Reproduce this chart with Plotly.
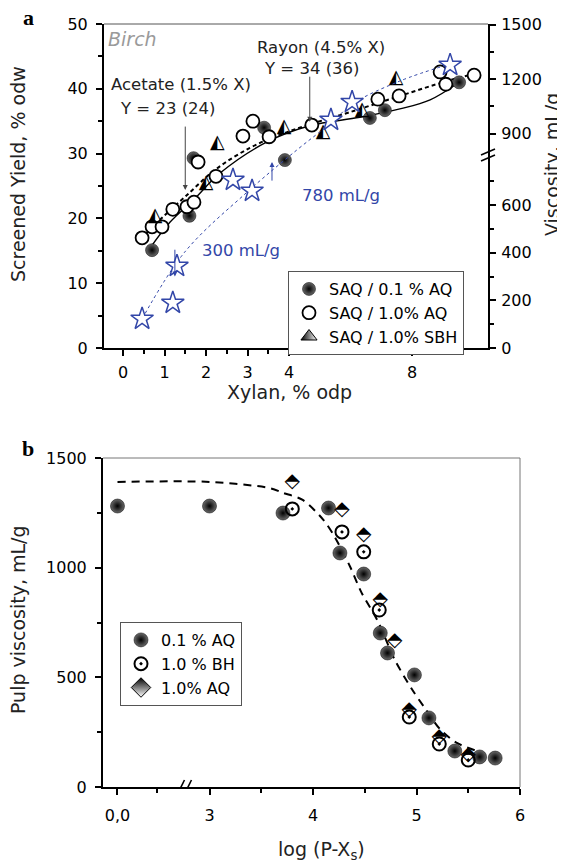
import plotly.graph_objects as go

# the page body keeps an 8px margin, so the figure is 8px smaller than the window
PAD = 8
W, H = 565 - PAD, 863 - PAD
FONT = "DejaVu Sans"
BLUE = "#3246a8"

# ---- panel a: screened yield (left) and viscosity (right) vs xylan, % odp ----
AQ01_XYLAN = [0.7, 1.6, 1.7, 3.4, 3.9, 6.31, 6.91, 9.88]
AQ01_YIELD = [15.1, 20.4, 29.3, 34.0, 29.0, 35.5, 36.7, 41.0]
AQ10_XYLAN = [0.46, 0.7, 0.94, 1.2, 1.54, 1.71, 1.81, 2.24, 2.89, 3.13, 3.52, 4.55,
              6.63, 7.48, 9.12, 9.35, 10.48]
AQ10_YIELD = [17.0, 18.7, 18.7, 21.4, 21.8, 22.5, 28.7, 26.5, 32.7, 35.0, 32.6, 34.4,
              38.4, 38.9, 42.6, 40.7, 42.1]
SBH_XYLAN = [0.77, 2.0, 2.27, 3.88, 4.82, 6.0, 7.36]
SBH_YIELD = [20.4, 25.5, 31.6, 34.0, 33.3, 36.7, 41.7]
VISC_XYLAN = [0.46, 1.2, 1.3, 2.65, 3.11, 5.01, 5.6, 9.52]
VISC_VALUES = [122, 189, 344, 705, 659, 975, 1073, 1277]

# fitted curves
FIT01_XYLAN = [0.65, 1.13, 1.69, 2.34, 3.47, 4.5, 5.91, 7.51, 8.72, 9.84]
FIT01_YIELD = [15.4, 19.4, 22.8, 27.0, 31.8, 34.3, 35.6, 36.9, 38.3, 40.9]
FIT10_XYLAN = [0.41, 0.89, 1.49, 2.22, 3.06, 3.78, 4.55, 5.52, 7.51, 9.4, 10.48]
FIT10_YIELD = [16.7, 19.8, 23.3, 27.5, 30.9, 32.9, 34.6, 36.4, 38.9, 41.2, 42.3]
VFIT_XYLAN = [0.46, 1.49, 2.99, 4.19, 5.04, 5.6, 7.51, 9.52]
VFIT_VALUES = [122, 403, 654, 831, 963, 1062, 1189, 1283]

A_XTICKS = [0, 1, 2, 3, 4, 8]
A_XMINOR = [0.5, 1.5, 2.5, 3.5, 4.5, 6, 10]
A_VTICKS = [0, 200, 400, 600, 900, 1200, 1500]
A_VMINOR = [100, 300, 500, 700, 1050, 1350]

# ---- panel b: pulp viscosity vs log(P-Xs) ----
B_AQ01_LOG = [0.0, 3.0, 3.71, 4.15, 4.26, 4.49, 4.65, 4.72, 4.98, 5.12, 5.37, 5.61, 5.76]
B_AQ01_VISC = [1281, 1281, 1249, 1272, 1067, 971, 702, 611, 511, 315, 164, 137, 132]
B_BH_LOG = [3.8, 4.28, 4.49, 4.64, 4.93, 5.22, 5.5]
B_BH_VISC = [1268, 1163, 1072, 807, 319, 196, 123]
B_AQ10_LOG = [3.8, 4.28, 4.49, 4.65, 4.79, 4.93, 5.22, 5.5]
B_AQ10_VISC = [1391, 1263, 1149, 853, 666, 351, 228, 146]
B_FIT_LOG = [0.0, 3.0, 3.58, 3.71, 3.9, 4.1, 4.21, 4.36, 4.47, 4.62, 4.79, 4.95, 5.08,
             5.23, 5.39, 5.64]
B_FIT_VISC = [1391, 1391, 1363, 1341, 1309, 1218, 1140, 1003, 885, 762, 580, 450, 360,
              262, 201, 155]

B_XTICKS = [0, 3, 4, 5, 6]
B_XTEXT = ["0,0", "3", "4", "5", "6"]
B_XMINOR = [1.3, 3.5, 4.5, 5.5]


# broken axes: piecewise linear maps from values to drawing units
def xa(x):
    return x if x <= 5.4 else 5.4 + (x - 5.4) * 0.6024


def va(v):
    return v * 0.03678 if v <= 900 else 33.1 + (v - 900) * 0.02803


def xb(x):
    return 2.111 + x * 0.2963 if x < 3 else x


# window pixels -> paper fractions
def px(x):
    return (x - PAD) / W


def py(y):
    return 1 - (y - PAD) / H


sphere = dict(symbol="circle", color="#6a6a6a",
              gradient=dict(type="radial", color="black"),
              line=dict(color="black", width=0.5))

fig = go.Figure()

# panel a curves
fig.add_trace(go.Scatter(
    x=[xa(v) for v in VFIT_XYLAN], y=[va(v) for v in VFIT_VALUES], yaxis="y2",
    mode="lines", line=dict(color=BLUE, width=1, dash="dot", shape="spline"),
    showlegend=False, hoverinfo="skip"))
fig.add_trace(go.Scatter(
    x=[xa(v) for v in FIT01_XYLAN], y=FIT01_YIELD, mode="lines",
    line=dict(color="black", width=1.4, shape="spline"),
    showlegend=False, hoverinfo="skip"))
fig.add_trace(go.Scatter(
    x=[xa(v) for v in FIT10_XYLAN], y=FIT10_YIELD, mode="lines",
    line=dict(color="black", width=2, dash="4px,3px", shape="spline"),
    showlegend=False, hoverinfo="skip"))

# panel a points
fig.add_trace(go.Scatter(
    x=[xa(v) for v in AQ01_XYLAN], y=AQ01_YIELD, mode="markers",
    marker=dict(size=13, **sphere), name="SAQ / 0.1 % AQ", legend="legend"))
fig.add_trace(go.Scatter(
    x=[xa(v) for v in AQ10_XYLAN], y=AQ10_YIELD, mode="markers",
    marker=dict(symbol="circle", size=13, color="white",
                line=dict(color="black", width=1.8)),
    name="SAQ / 1.0% AQ", legend="legend"))
fig.add_trace(go.Scatter(
    x=[xa(v) for v in SBH_XYLAN], y=SBH_YIELD, mode="text",
    text=["\u25ed"] * len(SBH_XYLAN),
    textfont=dict(family=FONT, size=19, color="black"),
    showlegend=False, hoverinfo="skip"))
fig.add_trace(go.Scatter(
    x=[None], y=[None], mode="markers",
    marker=dict(symbol="triangle-up", size=14, color="black",
                gradient=dict(type="horizontal", color="white"),
                line=dict(color="black", width=1)),
    name="SAQ / 1.0% SBH", legend="legend"))
fig.add_trace(go.Scatter(
    x=[xa(v) for v in VISC_XYLAN], y=[va(v) for v in VISC_VALUES], yaxis="y2",
    mode="markers",
    marker=dict(symbol="star", size=17, color="white", line=dict(color=BLUE, width=1.5)),
    showlegend=False))

# panel b
fig.add_trace(go.Scatter(
    x=[xb(v) for v in B_FIT_LOG], y=B_FIT_VISC, xaxis="x2", yaxis="y3", mode="lines",
    line=dict(color="black", width=2, dash="8px,6px", shape="spline", smoothing=0.8),
    showlegend=False, hoverinfo="skip"))
fig.add_trace(go.Scatter(
    x=[xb(v) for v in B_AQ01_LOG], y=B_AQ01_VISC, xaxis="x2", yaxis="y3",
    mode="markers", marker=dict(size=14, **sphere),
    name="0.1 % AQ", legend="legend2"))
fig.add_trace(go.Scatter(
    x=[xb(v) for v in B_BH_LOG], y=B_BH_VISC, xaxis="x2", yaxis="y3",
    mode="markers",
    marker=dict(symbol="circle-open-dot", size=13, color="black", line=dict(width=2)),
    name="1.0 % BH", legend="legend2"))
fig.add_trace(go.Scatter(
    x=[xb(v) for v in B_AQ10_LOG], y=B_AQ10_VISC, xaxis="x2", yaxis="y3",
    mode="text", text=["\u2b18"] * len(B_AQ10_LOG),
    textfont=dict(family=FONT, size=20, color="black"),
    showlegend=False, hoverinfo="skip"))
fig.add_trace(go.Scatter(
    x=[None], y=[None], xaxis="x2", yaxis="y3", mode="markers",
    marker=dict(symbol="diamond", size=15, color="black",
                gradient=dict(type="vertical", color="white"),
                line=dict(color="black", width=1)),
    name="1.0% AQ", legend="legend2"))

tickfont = dict(family=FONT, size=16, color="black")
axis_common = dict(showgrid=False, zeroline=False, showline=True, linecolor="black",
                   linewidth=2, ticks="outside", ticklen=6, tickwidth=1.5,
                   tickcolor="black", tickfont=tickfont, automargin=False)
minor_common = dict(ticks="outside", ticklen=4, tickwidth=1.5, tickcolor="black")

fig.update_layout(
    width=W, height=H, margin=dict(l=0, r=0, t=0, b=0),
    paper_bgcolor="white", plot_bgcolor="white",
    font=dict(family=FONT, color="black"),
    xaxis=dict(domain=[px(104), px(488)], anchor="y", range=[-0.458, 8.795],
               tickmode="array", tickvals=[xa(t) for t in A_XTICKS],
               ticktext=[str(t) for t in A_XTICKS], ticklabelstandoff=3,
               minor=dict(tickvals=[xa(t) for t in A_XMINOR], **minor_common),
               **axis_common),
    yaxis=dict(domain=[py(348), py(24)], anchor="x", range=[0, 50], dtick=10,
               ticklabelstandoff=5, minor=dict(dtick=5, **minor_common), **axis_common),
    yaxis2=dict(overlaying="y", side="right", anchor="x", range=[0, 50],
                tickmode="array", tickvals=[va(v) for v in A_VTICKS],
                ticktext=[str(v) for v in A_VTICKS], ticklabelstandoff=2,
                minor=dict(tickvals=[va(v) for v in A_VMINOR], **minor_common),
                **axis_common),
    xaxis2=dict(domain=[px(103), px(520)], anchor="y3", range=[1.971, 6.0],
                tickmode="array", tickvals=[xb(t) for t in B_XTICKS], ticktext=B_XTEXT,
                ticklabelstandoff=7,
                minor=dict(tickvals=[xb(t) for t in B_XMINOR], **minor_common),
                **axis_common),
    yaxis3=dict(domain=[py(787), py(458)], anchor="x2", range=[0, 1500], dtick=500,
                ticklabelstandoff=5, minor=dict(dtick=250, **minor_common),
                **axis_common),
    legend=dict(x=px(288), y=py(271), xanchor="left", yanchor="top",
                bgcolor="white", bordercolor="#555", borderwidth=1,
                font=dict(family=FONT, size=16), tracegroupgap=0),
    legend2=dict(x=px(120), y=py(622), xanchor="left", yanchor="top",
                 bgcolor="white", bordercolor="#555", borderwidth=1,
                 font=dict(family=FONT, size=16), tracegroupgap=0),
)

shapes = [
    dict(type="line", xref="x domain", yref="y domain", x0=0, x1=1, y0=1, y1=1,
         line=dict(color="#555", width=1)),
    dict(type="line", xref="x2 domain", yref="y3 domain", x0=0, x1=1, y0=1, y1=1,
         line=dict(color="#777", width=1)),
    dict(type="line", xref="x2 domain", yref="y3 domain", x0=1, x1=1, y0=0, y1=1,
         line=dict(color="#777", width=1)),
]


def axis_break(xref, yref, xanc, yanc, segs):
    for x0, y0, x1, y1 in segs:
        shapes.append(dict(type="line", xref=xref, yref=yref, xsizemode="pixel",
                           ysizemode="pixel", xanchor=xanc, yanchor=yanc,
                           x0=x0, y0=y0, x1=x1, y1=y1,
                           line=dict(color="black", width=1.6)))


slash = [(-8, -7, -1, 7), (-1, -7, 6, 7)]
axis_break("x", "y", 5.04, 0, slash)
axis_break("x2", "y3", 2.768, 0, slash)
axis_break("x domain", "y2", 1, va(810), [(-7, -6, 7, 0), (-7, 0, 7, 6)])
fig.update_layout(shapes=shapes)

ann = []
txt = dict(family=FONT, size=16.5, color="#222")
ann.append(dict(x=-0.42, y=47.7, xref="x", yref="y", text="<i>Birch</i>",
                showarrow=False, xanchor="left",
                font=dict(family=FONT, size=19, color="#9a9a9a")))
ann.append(dict(x=1.386, y=40.6, xref="x", yref="y", text="Acetate (1.5% X)",
                showarrow=False, font=txt))
ann.append(dict(x=1.072, y=37.0, xref="x", yref="y", text="Y = 23 (24)",
                showarrow=False, font=txt))
ann.append(dict(x=6.36, y=46.45, xref="x", yref="y", text="Rayon (4.5% X)",
                showarrow=False, xanchor="right", font=txt))
ann.append(dict(x=4.55, y=43.2, xref="x", yref="y", text="Y = 34 (36)",
                showarrow=False, font=txt))
ann.append(dict(x=4.265, y=23.6, xref="x", yref="y", text="780 mL/g",
                showarrow=False, xanchor="left", font=dict(txt, color=BLUE)))
ann.append(dict(x=1.855, y=15.1, xref="x", yref="y", text="300 mL/g",
                showarrow=False, xanchor="left", font=dict(txt, color=BLUE)))

# arrows
arrow = dict(text="", showarrow=True, arrowhead=2, arrowsize=1, arrowwidth=1,
             axref="x", xref="x")
ann.append(dict(arrow, x=1.5, y=24.4, ax=1.5, ay=34.4, yref="y", ayref="y",
                arrowcolor="#444"))
ann.append(dict(arrow, x=4.5, y=34.9, ax=4.5, ay=42.1, yref="y", ayref="y",
                arrowcolor="#444"))
ann.append(dict(arrow, x=3.59, y=va(780), ax=3.59, ay=25.6, yref="y2", ayref="y2",
                arrowcolor=BLUE))
ann.append(dict(arrow, x=1.25, y=va(300), ax=1.25, ay=15.4, yref="y2", ayref="y2",
                arrowcolor=BLUE))

# axis titles and panel letters (paper positions, anchored on their centre)
title = dict(family=FONT, size=19, color="#222")
centre = dict(xref="paper", yref="paper", xanchor="center", yanchor="middle",
              showarrow=False)
ann.append(dict(centre, x=px(18), y=py(174), text="Screened Yield, % odw",
                textangle=-90, font=title))
ann.append(dict(centre, x=px(552), y=py(165), text="Viscosity, mL/g",
                textangle=-90, font=title))
ann.append(dict(centre, x=px(290), y=py(392), text="Xylan, % odp", font=title))
ann.append(dict(centre, x=px(18), y=py(620), text="Pulp viscosity, mL/g",
                textangle=-90, font=title))
ann.append(dict(centre, x=px(321), y=py(850), text="log (P-X<sub>s</sub>)", font=title))
letter = dict(family="Liberation Serif", size=22, color="black")
ann.append(dict(centre, x=px(28), y=py(17), text="<b>a</b>", height=16, font=letter))
ann.append(dict(centre, x=px(28), y=py(448), text="<b>b</b>", height=18, font=letter))
fig.update_layout(annotations=ann)

fig.write_html("out.html")
